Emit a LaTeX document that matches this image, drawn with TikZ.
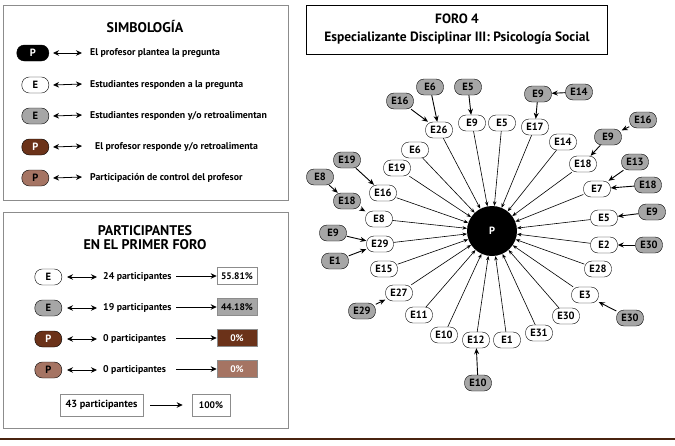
\documentclass[tikz,border=0pt]{standalone}
\usepackage{fontspec}
\setmainfont{PT Sans}
\usetikzlibrary{arrows.meta,positioning}
\definecolor{grisnodo}{HTML}{A6A6A6}
\definecolor{cafe}{HTML}{6B3219}
\definecolor{cafeclaro}{HTML}{A57463}
\definecolor{lineacafe}{HTML}{4A2410}
\definecolor{marco}{HTML}{8C8C8C}
\tikzset{
  nodo/.style={draw, rounded corners=7.5pt, minimum height=16pt,
    minimum width=27pt, inner xsep=2.5pt, inner ysep=1pt,
    font=\fontsize{10.5}{11}\selectfont\bfseries},
  blanco/.style={nodo, fill=white},
  gris/.style={nodo, fill=grisnodo},
  negro/.style={nodo, fill=black, text=white},
  cafeP/.style={nodo, fill=cafe, text=white},
  cafeclaroP/.style={nodo, fill=cafeclaro},
  texto/.style={font=\fontsize{9.8}{11}\selectfont\bfseries, anchor=west, inner sep=0pt},
  titulo/.style={font=\fontsize{14}{16}\selectfont\bfseries, align=center},
  caja/.style={draw=marco, line width=0.6pt, minimum width=40pt, minimum height=17pt,
    inner sep=1pt, font=\fontsize{9.5}{10}\selectfont\bfseries},
  doble/.style={{Stealth[length=6pt,width=5.5pt]}-{Stealth[length=6pt,width=5.5pt]}, line width=0.8pt},
  simple/.style={-{Stealth[length=6pt,width=5.5pt]}, line width=0.8pt},
  haciaP/.style={-{Stealth[length=4.5pt,width=3.5pt]}, line width=0.6pt},
  gflecha/.style={-{Stealth[length=6pt,width=5pt]}, line width=0.9pt},
}
\begin{document}
\begin{tikzpicture}[x=1pt,y=-1pt]
\useasboundingbox (0,0) rectangle (675,445);

% marcos
\draw[marco, line width=0.8pt] (3,5) rectangle (288,200);
\draw[marco, line width=0.8pt] (3,212) rectangle (288,428);
\draw[line width=1pt] (306,5) rectangle (607,54);
\draw[lineacafe, line width=1.6pt] (0,439) -- (675,439);

% simbologia
\node[titulo] (tsim) at (145,27) {SIMBOLOGÍA};
\node[negro, minimum width=32pt, anchor=east] (s1) at (49,53) {P};
\node[blanco, anchor=east] (s2) at (49,85) {E};
\node[gris, anchor=east] (s3) at (49,116) {E};
\node[cafeP, anchor=east] (s4) at (49,147) {P};
\node[cafeclaroP, anchor=east] (s5) at (49,178) {P};
\node[texto] (t1) at (90,53) {El profesor plantea la pregunta};
\node[texto] (t2) at (90,85) {Estudiantes responden a la pregunta};
\node[texto] (t3) at (90,116) {Estudiantes responden y/o retroalimentan};
\node[texto] (t4) at (95,147) {El profesor responde y/o retroalimenta};
\node[texto] (t5) at (90,178) {Participación de control del profesor};
\foreach \i in {1,...,5}
  \draw[doble] ([xshift=4pt]s\i.east) -- (82,\i*31+22);

% participantes
\node[titulo] (tpar) at (145,238) {PARTICIPANTES\\[-2pt]EN EL PRIMER FORO};
\node[blanco, anchor=east] (p1) at (62,277) {E};
\node[gris, anchor=east] (p2) at (62,308) {E};
\node[cafeP, anchor=east] (p3) at (62,339) {P};
\node[cafeclaroP, anchor=east] (p4) at (62,370) {P};
\node[texto] (c1) at (103,277) {24 participantes};
\node[texto] (c2) at (103,308) {19 participantes};
\node[texto] (c3) at (103,339) {0 participantes};
\node[texto] (c4) at (103,370) {0 participantes};
\node[caja, fill=white] (b1) at (237,276) {55.81\%};
\node[caja, fill=grisnodo] (b2) at (237,307) {44.18\%};
\node[caja, fill=cafe, text=white] (b3) at (237,338) {0\%};
\node[caja, fill=cafeclaro, text=white] (b4) at (237,369) {0\%};
\foreach \i in {1,...,4} {
  \draw[doble] ([xshift=5pt]p\i.east) -- (97,\i*31+246);
  \draw[simple] (176,\i*31+245) -- (b\i.west);
}
\node[caja, minimum width=83pt, minimum height=22pt,
  font=\fontsize{10.3}{11}\selectfont\bfseries] (tot) at (101.5,405) {43 participantes};
\node[caja, minimum width=38pt, minimum height=22pt] (cien) at (211,405) {100\%};
\draw[simple] ([xshift=7pt]tot.east) -- ([xshift=-9pt]cien.west);

% foro
\node[titulo, font=\fontsize{13.5}{18}\selectfont\bfseries] (tforo) at (457,29)
  {FORO 4\\Especializante Disciplinar III: Psicología Social};

\node[circle, fill=black, minimum size=50pt, text=white,
  font=\fontsize{10.5}{11}\selectfont\bfseries] (p) at (492,231) {P};

% anillo
\node[blanco] (e26) at (439,130) {E26};
\node[blanco] (e9) at (472,123) {E9};
\node[blanco] (e5a) at (502,123) {E5};
\node[blanco] (e17) at (535,127) {E17};
\node[blanco] (e14) at (563,142) {E14};
\node[blanco] (e18) at (583,164) {E18};
\node[blanco] (e7) at (597,189) {E7};
\node[blanco] (e5b) at (604,218) {E5};
\node[blanco] (e2) at (604,245) {E2};
\node[blanco] (e28) at (598,269) {E28};
\node[blanco] (e3) at (585,295) {E3};
\node[blanco] (e30) at (566,316) {E30};
\node[blanco] (e31) at (539,333) {E31};
\node[blanco] (e1) at (507,340) {E1};
\node[blanco] (e12) at (476,340) {E12};
\node[blanco] (e10) at (444,335) {E10};
\node[blanco] (e11) at (419,315) {E11};
\node[blanco] (e27) at (399,293) {E27};
\node[blanco] (e15) at (384,269) {E15};
\node[blanco] (e29) at (380,244) {E29};
\node[blanco] (e8) at (379,219) {E8};
\node[blanco] (e16) at (383,193) {E16};
\node[blanco] (e19) at (397,168) {E19};
\node[blanco] (e6) at (415,150) {E6};
\foreach \n in {e26,e9,e5a,e17,e14,e18,e7,e5b,e2,e28,e3,e30,e31,e1,e12,e10,e11,e27,e15,e29,e8,e16,e19,e6}
  \draw[haciaP] (\n) -- (p);

% respuestas externas
\node[gris] (g6) at (430,87) {E6};
\node[gris] (g5) at (468,87) {E5};
\node[gris] (g16a) at (400,101) {E16};
\node[gris] (g9a) at (538,94) {E9};
\node[gris] (g14) at (579,92) {E14};
\node[gris] (g16b) at (643,120) {E16};
\node[gris] (g9b) at (608,137) {E9};
\node[gris] (g13) at (635,162) {E13};
\node[gris] (g18a) at (648,185) {E18};
\node[gris] (g9c) at (652,212) {E9};
\node[gris] (g30a) at (649,245) {E30};
\node[gris] (g30b) at (630,318) {E30};
\node[gris] (g10) at (478,383) {E10};
\node[gris] (g29) at (362,311) {E29};
\node[gris] (g1) at (335,261) {E1};
\node[gris] (g9d) at (333,233) {E9};
\node[gris] (g18b) at (347,201) {E18};
\node[gris] (g8) at (320,177) {E8};
\node[gris] (g19) at (347,160) {E19};
\foreach \a/\b in {g6/e26,g16a/e26,g5/e9,g14/g9a,g9a/e17,g16b/g9b,g9b/e18,
  g13/e7,g18a/e7,g9c/e5b,g30a/e2,g30b/e3,g10/e12,g29/e27,g1/e29,g9d/e29,
  g8/g18b,g18b/e8,g19/e16}
  \draw[gflecha] (\a) -- (\b);
\end{tikzpicture}
\end{document}
